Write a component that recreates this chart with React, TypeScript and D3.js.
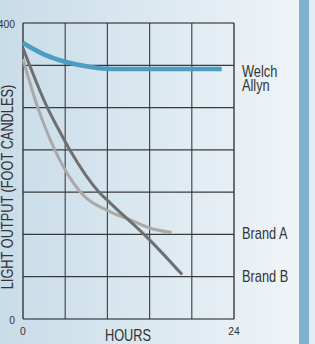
import { useEffect, useRef } from 'react';
import * as d3 from 'd3';

// hours, foot candles
const welchHours = [0, 2.5, 5, 7.5, 10, 14, 18, 22.6];
const welchValues = [373, 357, 347, 341, 338, 338, 338, 338];

const brandAHours = [0, 1.7, 2.65, 3.64, 6.5, 9.9, 12.2, 14.4, 16.9];
const brandAValues = [351, 285, 255, 228, 172, 145, 134, 123, 117];

const brandBHours = [0, 2.8, 4.1, 5.35, 8.6, 9.9, 14.4, 18.1];
const brandBValues = [366, 285, 255, 228, 172, 157, 107, 60];

const xTicks = [0, 24];
const yTicks = [0, 400];
const xGridCount = 5;
const yGridCount = 7;

const FONT = '"Liberation Sans", Arial, sans-serif';
const SQUEEZE = 0.8; // the original type is a condensed face

const App = () => {
  const svgRef = useRef<SVGSVGElement>(null);
  const width = 315;
  const height = 344;
  const margin = { left: 23, right: 81, top: 23, bottom: 25 };

  useEffect(() => {
    document.body.style.margin = '0';
    if (!svgRef.current) return;
    const svg = d3.select(svgRef.current);
    svg.selectAll('*').remove();

    const x = d3.scaleLinear().domain([0, 24]).range([margin.left, width - margin.right]);
    const y = d3.scaleLinear().domain([0, 400]).range([height - margin.bottom, margin.top]);

    // background
    const defs = svg.append('defs');
    const grad = defs.append('linearGradient').attr('id', 'bg').attr('x1', 0).attr('x2', 1).attr('y1', 0).attr('y2', 0);
    grad.append('stop').attr('offset', '0%').attr('stop-color', '#c8dce8');
    grad.append('stop').attr('offset', '100%').attr('stop-color', '#eff4f8');
    svg.append('rect').attr('width', 299).attr('height', height).attr('fill', 'url(#bg)');
    svg.append('rect').attr('x', 299).attr('width', 10).attr('height', height).attr('fill', '#7eb0cf');
    svg.append('rect').attr('x', 309).attr('width', 6).attr('height', height).attr('fill', '#e4edf3');

    // grid
    const grid = svg.append('g').attr('stroke-width', 1.2);
    d3.range(xGridCount + 1).forEach(i => {
      const xv = x(i * 24 / xGridCount);
      grid.append('line').attr('x1', xv).attr('x2', xv).attr('y1', y(0)).attr('y2', y(400))
        .attr('stroke', i === 0 || i === xGridCount ? '#1a1a1a' : '#4a4a4a');
    });
    d3.range(yGridCount + 1).forEach(i => {
      const yv = y(i * 400 / yGridCount);
      grid.append('line').attr('x1', x(0)).attr('x2', x(24)).attr('y1', yv).attr('y2', yv)
        .attr('stroke', i === 0 || i === yGridCount ? '#1a1a1a' : '#3a3a3a');
    });

    const line = d3.line<[number, number]>()
      .x(d => x(d[0]))
      .y(d => y(d[1]))
      .curve(d3.curveMonotoneX);

    const series = [
      { hours: brandAHours, values: brandAValues, color: '#a9a9a9', w: 3 },
      { hours: brandBHours, values: brandBValues, color: '#6f6f6f', w: 3 },
      { hours: welchHours, values: welchValues, color: '#4d9dc3', w: 4.5 },
    ];
    series.forEach(s => {
      svg.append('path')
        .datum(s.hours.map((h, i) => [h, s.values[i]] as [number, number]))
        .attr('d', line)
        .attr('fill', 'none')
        .attr('stroke', s.color)
        .attr('stroke-width', s.w);
    });

    const txt = svg.append('g').attr('font-family', FONT).attr('fill', '#333');
    const label = (t: string | number, tx: number, ty: number, size: number, anchor = 'start', rot = 0, sq = SQUEEZE) =>
      txt.append('text')
        .attr('transform', `translate(${tx},${ty}) rotate(${rot}) scale(${sq},1)`)
        .attr('text-anchor', anchor)
        .attr('font-size', size)
        .text(t);

    yTicks.forEach(t => label(t, 15, y(t) + 4.5, 11.5, 'end', 0, 0.9));
    xTicks.forEach(t => label(t, x(t), 335, 11.5, 'middle', 0, 0.9));

    label('HOURS', 128, 341, 16, 'middle');
    label('LIGHT OUTPUT (FOOT CANDLES)', 13, 187, 16, 'middle', -90);

    label('Welch', 242, 77, 16);
    label('Allyn', 242, 91, 16);
    label('Brand A', 242, 239, 16);
    label('Brand B', 242, 282, 16);
  }, []);

  return (
    <svg ref={svgRef} width={width} height={height} style={{ display: 'block' }} />
  );
};

export default App;
